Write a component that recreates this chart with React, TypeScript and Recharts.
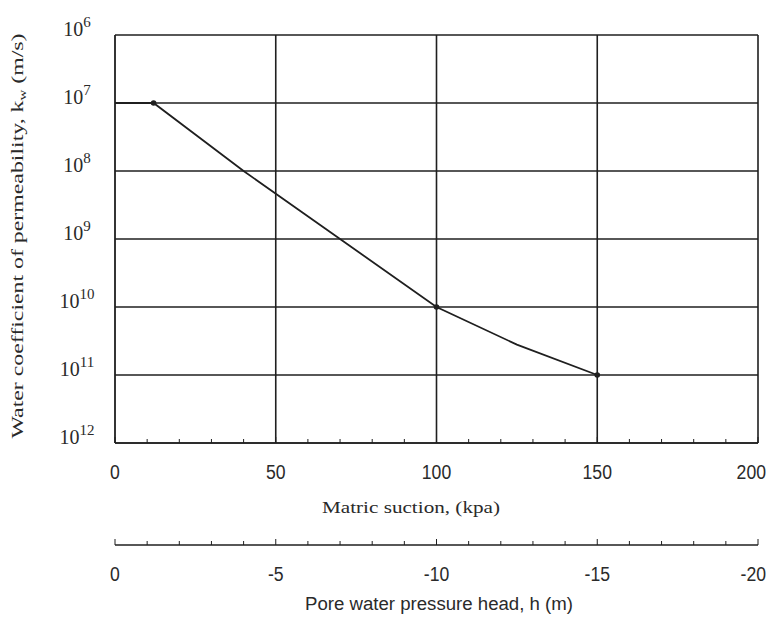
import { ComposedChart, Line, XAxis, YAxis, CartesianGrid, ReferenceLine, Label } from 'recharts';

// matric suction (kPa) vs water coefficient of permeability (m/s)
const suction = [0, 12, 40, 70, 100, 125, 150];
const permeability = [1e-7, 1e-7, 1e-8, 1e-9, 1e-10, 2.8e-11, 1e-11];
const markedSuction = [12, 100, 150];

const suctionTicks = [0, 10, 20, 30, 40, 50, 60, 70, 80, 90, 100, 110, 120, 130, 140, 150, 160, 170, 180, 190, 200];
const suctionLabels = [0, 50, 100, 150, 200];
const gridSuction = [50, 100, 150, 200];

const headTicks = [0, -1, -2, -3, -4, -5, -6, -7, -8, -9, -10, -11, -12, -13, -14, -15, -16, -17, -18, -19, -20];
const headLabels = [0, -5, -10, -15, -20];

const kTicks = [1e-12, 1e-11, 1e-10, 1e-9, 1e-8, 1e-7, 1e-6];
const kExponents = ['12', '11', '10', '9', '8', '7', '6'];

// pressure head in m, roughly suction / 10 with a minus sign
const data = suction.map((s, i) => ({ s, h: -s / 10, k: permeability[i] }));

const ink = '#1f1f1f';
const sans = '"Liberation Sans", Arial, sans-serif';
const serif = '"Liberation Serif", "Times New Roman", serif';

const BottomTick = ({ x, y, payload, labels }) => {
    const show = labels.includes(payload.value);
    const last = payload.value === 200 || payload.value === -20;
    return (
        <g>
            <line x1={x} y1={y} x2={x} y2={y - (show ? 6 : 4)} stroke={ink} strokeWidth={1} />
            {show && (
                <text
                    transform={`translate(${last ? x + 8 : x} ${y + 36}) scale(0.84 1)`}
                    textAnchor={last ? 'end' : 'middle'}
                    fontFamily={sans}
                    fontSize={21}
                    fill="#2a2a2a"
                >
                    {payload.value}
                </text>
            )}
        </g>
    );
};

const PowerTick = ({ x, y, payload }) => {
    const idx = kTicks.findIndex((t) => Math.abs(Math.log10(t) - Math.log10(payload.value)) < 0.01);
    const exp = kExponents[idx] ?? '';
    return (
        <text x={x - 30} y={y + 1} textAnchor="middle" fontFamily={serif} fontSize={20} fill="#2a2a2a">
            <tspan>10</tspan>
            <tspan fontSize={15} dy={-9}>{exp}</tspan>
        </text>
    );
};

const Dot = ({ cx, cy, payload }) => {
    if (!markedSuction.includes(payload.s)) return null;
    return <circle key={payload.s} cx={cx} cy={cy} r={2.8} fill={ink} />;
};

export default function App() {
    return (
        <div style={{ marginTop: -8 }}>
            <ComposedChart width={766} height={616} data={data} margin={{ top: 35, right: 16, bottom: 6, left: 0 }}>
                <CartesianGrid vertical={false} stroke={ink} strokeWidth={1.6} />
                {gridSuction.map((g) => (
                    <ReferenceLine key={g} xAxisId="kpa" x={g} stroke={ink} strokeWidth={1.6} />
                ))}
                <XAxis
                    xAxisId="kpa"
                    dataKey="s"
                    type="number"
                    domain={[0, 200]}
                    ticks={suctionTicks}
                    interval={0}
                    height={102}
                    tickSize={0}
                    tickMargin={0}
                    tickLine={false}
                    axisLine={{ stroke: ink, strokeWidth: 1.6 }}
                    tick={(p) => <BottomTick {...p} labels={suctionLabels} />}
                >
                    <Label
                        content={() => (
                            <text x={403} y={513} textAnchor="middle" fontFamily={serif} fontSize={17} textLength={178} lengthAdjust="spacingAndGlyphs" fill="#2a2a2a">
                                Matric suction, (kpa)
                            </text>
                        )}
                    />
                </XAxis>
                <XAxis
                    xAxisId="m"
                    dataKey="h"
                    type="number"
                    domain={[-20, 0]}
                    reversed
                    allowDataOverflow
                    ticks={headTicks}
                    interval={0}
                    height={65}
                    tickSize={0}
                    tickMargin={0}
                    tickLine={false}
                    axisLine={{ stroke: ink, strokeWidth: 1.6 }}
                    tick={(p) => <BottomTick {...p} labels={headLabels} />}
                >
                    <Label
                        content={() => (
                            <text x={431} y={610} textAnchor="middle" fontFamily={sans} fontSize={18} textLength={268} lengthAdjust="spacingAndGlyphs" fill="#2a2a2a">
                                Pore water pressure head, h (m)
                            </text>
                        )}
                    />
                </XAxis>
                <YAxis
                    type="number"
                    scale="log"
                    domain={[1e-12, 1e-6]}
                    allowDataOverflow
                    ticks={kTicks}
                    interval={0}
                    width={107}
                    tickLine={false}
                    axisLine={{ stroke: ink, strokeWidth: 1.8 }}
                    tick={PowerTick}
                >
                    <Label
                        content={() => (
                            <text
                                x={15}
                                y={236}
                                transform="rotate(-90 15 236)"
                                textAnchor="middle"
                                fontFamily={serif}
                                fontSize={16}
                                textLength={405}
                                lengthAdjust="spacingAndGlyphs"
                                fill="#2a2a2a"
                            >
                                Water coefficient of permeability, k<tspan fontSize={10} dy={3}>w</tspan><tspan dy={-3}> (m/s)</tspan>
                            </text>
                        )}
                    />
                </YAxis>
                <Line
                    xAxisId="m"
                    type="linear"
                    dataKey="k"
                    stroke="none"
                    dot={false}
                    activeDot={false}
                    legendType="none"
                    isAnimationActive={false}
                />
                <Line
                    xAxisId="kpa"
                    type="linear"
                    dataKey="k"
                    stroke={ink}
                    strokeWidth={1.8}
                    dot={Dot}
                    activeDot={false}
                    isAnimationActive={false}
                />
            </ComposedChart>
        </div>
    );
}
